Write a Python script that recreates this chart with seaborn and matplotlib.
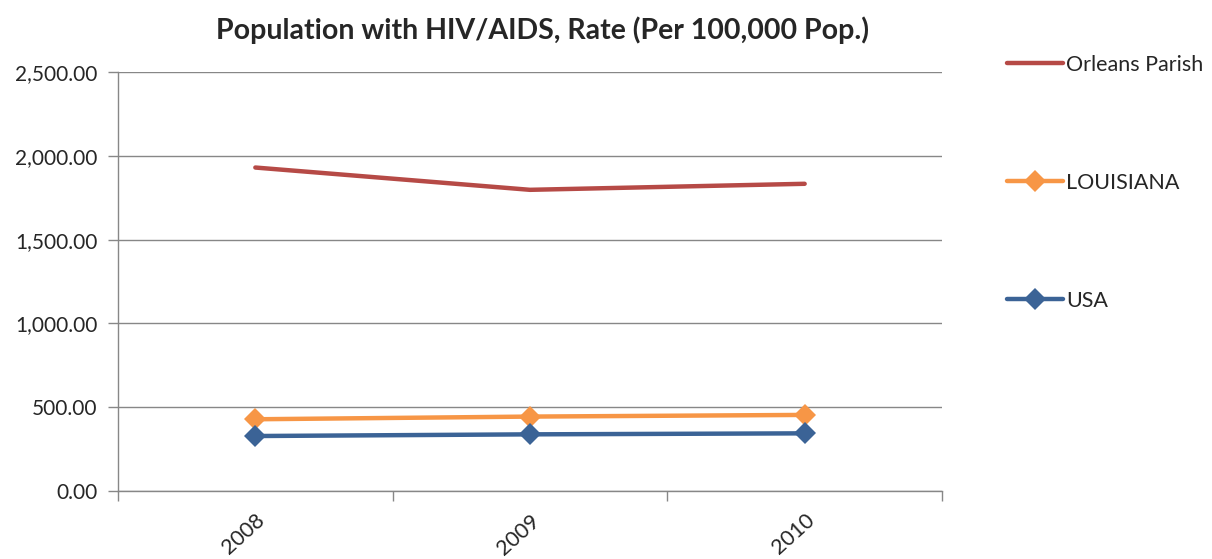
import matplotlib
matplotlib.use("Agg")
import matplotlib.pyplot as plt
import seaborn as sns
import pandas as pd
from matplotlib.ticker import FuncFormatter, FixedLocator

sns.set_theme(style="white")
plt.rcParams['font.family'] = ['Lato', 'DejaVu Sans']

# data
years = ["2008", "2009", "2010"]
orleans = [1930, 1797, 1833]
louisiana = [428, 444, 454]
usa = [328, 338, 344]

series = ["Orleans Parish", "LOUISIANA", "USA"]
colors = {"Orleans Parish": "#B64A46", "LOUISIANA": "#F79646", "USA": "#3B6396"}
markers = {"Orleans Parish": None, "LOUISIANA": "D", "USA": "D"}

df = pd.DataFrame({
    "Year": years * 3,
    "Rate": orleans + louisiana + usa,
    "Area": [s for s in series for _ in years],
})

fig = plt.figure(figsize=(12.12, 5.59), dpi=100)
ax = fig.add_axes([118 / 1212, 1 - 491 / 559, (942 - 118) / 1212, (491 - 72) / 559])

for name in series:
    sub = df[df["Area"] == name]
    sns.lineplot(data=sub, x="Year", y="Rate", ax=ax, color=colors[name],
                 marker=markers[name], markersize=11, markeredgewidth=0,
                 linewidth=3.2, label=name, sort=False)

ax.set_xlim(-0.5, len(years) - 0.5)
ax.set_ylim(0, 2500)
ax.set_yticks(range(0, 2501, 500))
ax.yaxis.set_major_formatter(FuncFormatter(lambda v, p: f"{v:,.2f}"))

# category boundary ticks, labels centred under points
ax.xaxis.set_major_locator(FixedLocator([i - 0.5 for i in range(len(years) + 1)]))
ax.xaxis.set_minor_locator(FixedLocator(list(range(len(years)))))
ax.set_xticklabels([])
ax.set_xticklabels(years, minor=True)
ax.tick_params(axis="x", which="major", length=7, width=1, color="#878787", direction="out", bottom=True)
ax.tick_params(axis="x", which="minor", length=0, pad=14, labelsize=15.5)
for lbl in ax.get_xticklabels(minor=True):
    lbl.set_rotation(42)
    lbl.set_ha("right")
    lbl.set_va("top")
    lbl.set_rotation_mode("anchor")
ax.tick_params(axis="y", length=7, width=1, color="#878787", direction="out", left=True, labelsize=15, pad=8)

ax.grid(axis="y", color="#878787", linewidth=1)
ax.set_axisbelow(True)
for s in ["top", "right"]:
    ax.spines[s].set_visible(False)
for s in ["left", "bottom"]:
    ax.spines[s].set_color("#878787")
    ax.spines[s].set_linewidth(1)
ax.set_xlabel("")
ax.set_ylabel("")

handles, labels = ax.get_legend_handles_labels()
ax.get_legend().remove()
fig.legend(handles, labels, loc="upper left", bbox_to_anchor=(998 / 1212, 1 - 46 / 559),
           frameon=False, fontsize=15.5, labelspacing=4.55, handlelength=2.6,
           handletextpad=0.15, borderaxespad=0)

fig.text(543 / 1212, 1 - 30 / 559, "Population with HIV/AIDS, Rate (Per 100,000 Pop.)",
         ha="center", va="center", fontsize=20.5, fontweight="bold")

fig.savefig("out.png", dpi=100)
